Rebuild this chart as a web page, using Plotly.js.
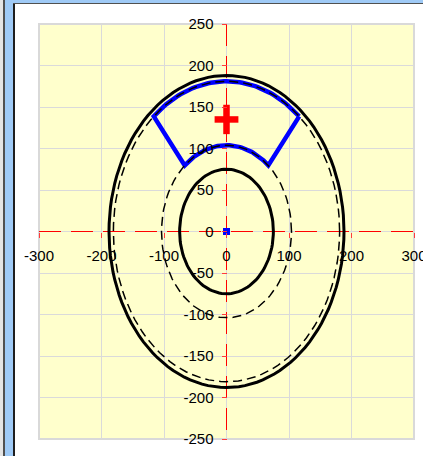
<!DOCTYPE html>
<html>
<head>
<meta charset="utf-8">
<script src="https://cdn.plot.ly/plotly-3.0.1.min.js"></script>
<style>
  html, body { margin:0; padding:0; background:#ffffff; }
  #wrap { position:relative; width:423px; height:456px; background:#ffffff; overflow:hidden; }
  #chart { position:absolute; left:0; top:0; width:423px; height:456px; }
  .fr { position:absolute; pointer-events:none; }
</style>
</head>
<body>
<div id="wrap">
  <div id="chart"></div>
  <div class="fr" style="left:0;top:0;width:3px;height:456px;background:#e4e4e4"></div>
  <div class="fr" style="left:3px;top:0;width:2px;height:456px;background:#505050"></div>
  <div class="fr" style="left:5px;top:0;width:8px;height:456px;background:#9fcaf6"></div>
  <div class="fr" style="left:13px;top:0;width:410px;height:3px;background:#9fcaf6"></div>
  <div class="fr" style="left:13px;top:3px;width:2px;height:453px;background:#1e1e1e"></div>
  <div class="fr" style="left:13px;top:3px;width:410px;height:1px;background:#505050"></div>
</div>
<script>
// ---- data ----
const xRange = [-300, 300];
const yRange = [-250, 250];
const xTicks = [-300, -200, -100, 0, 100, 200, 300];
const xTickLabels = ["-300", "-200", "-100", "0", "100", "200", "300"];
const yTicks = [-250, -200, -150, -100, -50, 0, 50, 100, 150, 200, 250];
const yTickLabels = ["-250", "-200", "-150", "-100", "-50", "0", "50", "100", "150", "200", "250"];

const solidRadii = [75, 188];     // thick solid circles
const dashedRadii = [104, 181];   // thin dashed circles
const sectorRadii = [104, 181];   // blue annular sector: inner, outer
const sectorAngles = [50, 130];   // degrees, start / end

const originX = [0], originY = [0];   // blue dot
const crossX = [0], crossY = [135];   // red centroid cross

// ---- geometry helpers (circle / arc outlines from radius & angles) ----
function arc(r, a0, a1, n) {
  const xs = [], ys = [];
  for (let i = 0; i <= n; i++) {
    const t = (a0 + (a1 - a0) * i / n) * Math.PI / 180;
    xs.push(r * Math.cos(t)); ys.push(r * Math.sin(t));
  }
  return [xs, ys];
}

const traces = [];

// blue sector
{
  const [ox, oy] = arc(sectorRadii[1], sectorAngles[0], sectorAngles[1], 60);
  const [ix, iy] = arc(sectorRadii[0], sectorAngles[1], sectorAngles[0], 60);
  const xs = ox.concat(ix, [ox[0]]);
  const ys = oy.concat(iy, [oy[0]]);
  traces.push({x: xs, y: ys, type: 'scatter', mode: 'lines',
    line: {color: '#0000ff', width: 4.5}, hoverinfo: 'skip'});
}
// dashed circles
dashedRadii.forEach(r => {
  const [xs, ys] = arc(r, 0, 360, 120);
  traces.push({x: xs, y: ys, type: 'scatter', mode: 'lines',
    line: {color: '#000000', width: 1.5, dash: '9px,5px'}, hoverinfo: 'skip'});
});
// solid circles
solidRadii.forEach(r => {
  const [xs, ys] = arc(r, 0, 360, 120);
  traces.push({x: xs, y: ys, type: 'scatter', mode: 'lines',
    line: {color: '#000000', width: 3}, hoverinfo: 'skip'});
});
// origin dot
traces.push({x: originX, y: originY, type: 'scatter', mode: 'markers',
  marker: {symbol: 'square', size: 7, color: '#0000ff'}, hoverinfo: 'skip'});
// red cross (two strokes)
traces.push({x: crossX, y: crossY, type: 'scatter', mode: 'markers',
  marker: {symbol: 'line-ns-open', size: 21, color: '#ff0000', line: {color: '#ff0000', width: 6.5}}, hoverinfo: 'skip'});
traces.push({x: crossX, y: crossY, type: 'scatter', mode: 'markers',
  marker: {symbol: 'line-ew-open', size: 17, color: '#ff0000', line: {color: '#ff0000', width: 6.5}}, hoverinfo: 'skip'});

const tickFont = {family: 'Liberation Sans, Arial, sans-serif', size: 15, color: '#000000'};
const axisCommon = {
  showgrid: true, gridcolor: '#dadada', gridwidth: 1,
  zeroline: false, showline: false,
  ticks: 'outside', ticklen: 5, tickwidth: 1, tickcolor: '#ff3b3b',
  tickfont: tickFont, anchor: 'free', position: 0.5, fixedrange: true,
  ticklabeloverflow: 'allow'
};

const layout = {
  width: 423, height: 456,
  margin: {l: 39, r: 9, t: 24, b: 17, pad: 0},
  paper_bgcolor: 'rgba(0,0,0,0)',
  plot_bgcolor: '#ffffcc',
  showlegend: false,
  xaxis: Object.assign({}, axisCommon, {range: xRange, tickvals: xTicks, ticktext: xTickLabels, ticklabelstandoff: 5}),
  yaxis: Object.assign({}, axisCommon, {range: yRange, tickvals: yTicks, ticktext: yTickLabels, ticklabelstandoff: 5}),
  shapes: [
    {type: 'rect', xref: 'paper', yref: 'paper', x0: 0, x1: 1, y0: 0, y1: 1,
     line: {color: '#d9d9d9', width: 2}, layer: 'between'},
    {type: 'line', xref: 'x', yref: 'y', x0: xRange[0], x1: xRange[1], y0: 0, y1: 0,
     line: {color: '#ff0000', width: 1, dash: '22px,10px'}, layer: 'between'},
    {type: 'line', xref: 'x', yref: 'y', x0: 0, x1: 0, y0: yRange[1], y1: yRange[0],
     line: {color: '#ff0000', width: 1, dash: '22px,10px'}, layer: 'between'}
  ]
};

Plotly.newPlot('chart', traces, layout, {staticPlot: true, displayModeBar: false});
</script>
</body>
</html>
